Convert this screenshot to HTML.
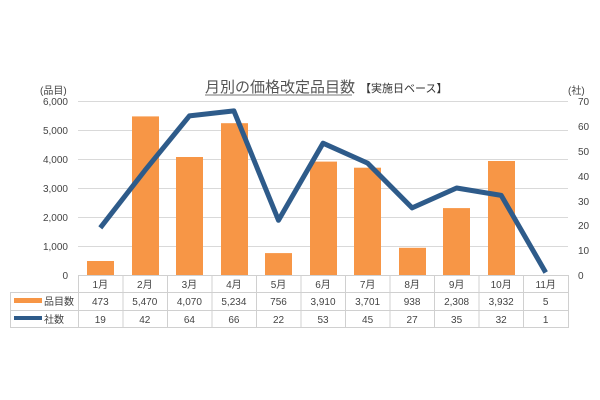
<!DOCTYPE html>
<html><head><meta charset="utf-8"><style>body{margin:0;background:#fff}svg{display:block}text{font-family:"Liberation Sans","Noto Sans CJK JP",sans-serif;fill:#444}</style></head><body>
<svg width="600" height="400" xmlns="http://www.w3.org/2000/svg">
<g stroke="#d9d9d9" stroke-width="1">
<line x1="78" y1="101.5" x2="568" y2="101.5"/><line x1="78" y1="130.5" x2="568" y2="130.5"/><line x1="78" y1="159.5" x2="568" y2="159.5"/><line x1="78" y1="188.5" x2="568" y2="188.5"/><line x1="78" y1="217.5" x2="568" y2="217.5"/><line x1="78" y1="246.5" x2="568" y2="246.5"/>
</g>
<g font-size="10" text-anchor="end">
<text x="68" y="105">6,000</text><text x="68" y="134">5,000</text><text x="68" y="163">4,000</text><text x="68" y="192">3,000</text><text x="68" y="221">2,000</text><text x="68" y="250">1,000</text><text x="68" y="279">0</text>
</g>
<g font-size="10">
<text x="578" y="105">70</text><text x="578" y="130">60</text><text x="578" y="155">50</text><text x="578" y="180">40</text><text x="578" y="205">30</text><text x="578" y="229">20</text><text x="578" y="254">10</text><text x="578" y="279">0</text>
<text x="40" y="94">(品目)</text><text x="568" y="94">(社)</text>
</g>
<text x="205" y="92" font-size="15" style="fill:#555">月別の価格改定品目数</text>
<line x1="205" y1="95" x2="352" y2="95" stroke="#777" stroke-width="1"/>
<text x="360" y="92" font-size="11" style="fill:#333">【実施日ベース】</text>
<g fill="#f79646">
<rect x="87" y="261" width="27" height="14"/>
<rect x="132" y="116.4" width="27" height="158.6"/>
<rect x="176" y="157" width="27" height="118"/>
<rect x="221" y="123.2" width="27" height="151.8"/>
<rect x="265" y="253.1" width="27" height="21.9"/>
<rect x="310" y="161.6" width="27" height="113.4"/>
<rect x="354" y="167.7" width="27" height="107.3"/>
<rect x="399" y="247.8" width="27" height="27.2"/>
<rect x="443" y="208.1" width="27" height="66.9"/>
<rect x="488" y="161" width="27" height="114"/>
</g>
<polyline fill="none" stroke="#2e5b8a" stroke-width="5" stroke-linejoin="round" points="100.3,227.8 144.8,170.6 189.4,115.9 233.9,110.9 278.5,220.3 323,143.2 367.6,163.1 412.1,207.9 456.6,188 501.2,195.4 545.7,272.5"/>
<g stroke="#d0d0d0" stroke-width="1" fill="none">
<line x1="78" y1="275.5" x2="568" y2="275.5"/>
<line x1="10" y1="292.5" x2="568" y2="292.5"/>
<line x1="10" y1="310.5" x2="568" y2="310.5"/>
<line x1="10" y1="327.5" x2="568" y2="327.5"/>
<line x1="10.5" y1="292" x2="10.5" y2="328"/>
<line x1="78.5" y1="275" x2="78.5" y2="328"/><line x1="123" y1="275" x2="123" y2="328"/><line x1="167.5" y1="275" x2="167.5" y2="328"/><line x1="212" y1="275" x2="212" y2="328"/><line x1="256.5" y1="275" x2="256.5" y2="328"/><line x1="301" y1="275" x2="301" y2="328"/><line x1="345.5" y1="275" x2="345.5" y2="328"/><line x1="390" y1="275" x2="390" y2="328"/><line x1="434.5" y1="275" x2="434.5" y2="328"/><line x1="479" y1="275" x2="479" y2="328"/><line x1="523.5" y1="275" x2="523.5" y2="328"/><line x1="568.5" y1="275" x2="568.5" y2="328"/>
</g>
<rect x="14" y="298" width="28" height="5" fill="#f79646"/>
<rect x="14" y="316" width="28" height="4" fill="#2e5b8a"/>
<text x="44" y="305" font-size="10">品目数</text>
<text x="44" y="323" font-size="10">社数</text>
<g font-size="10" text-anchor="middle">
<text x="100.3" y="288">1月</text><text x="144.8" y="288">2月</text><text x="189.4" y="288">3月</text><text x="233.9" y="288">4月</text><text x="278.5" y="288">5月</text><text x="323" y="288">6月</text><text x="367.6" y="288">7月</text><text x="412.1" y="288">8月</text><text x="456.6" y="288">9月</text><text x="501.2" y="288">10月</text><text x="545.7" y="288">11月</text>
<text x="100.3" y="305">473</text><text x="144.8" y="305">5,470</text><text x="189.4" y="305">4,070</text><text x="233.9" y="305">5,234</text><text x="278.5" y="305">756</text><text x="323" y="305">3,910</text><text x="367.6" y="305">3,701</text><text x="412.1" y="305">938</text><text x="456.6" y="305">2,308</text><text x="501.2" y="305">3,932</text><text x="545.7" y="305">5</text>
<text x="100.3" y="323">19</text><text x="144.8" y="323">42</text><text x="189.4" y="323">64</text><text x="233.9" y="323">66</text><text x="278.5" y="323">22</text><text x="323" y="323">53</text><text x="367.6" y="323">45</text><text x="412.1" y="323">27</text><text x="456.6" y="323">35</text><text x="501.2" y="323">32</text><text x="545.7" y="323">1</text>
</g>
</svg>
</body></html>
